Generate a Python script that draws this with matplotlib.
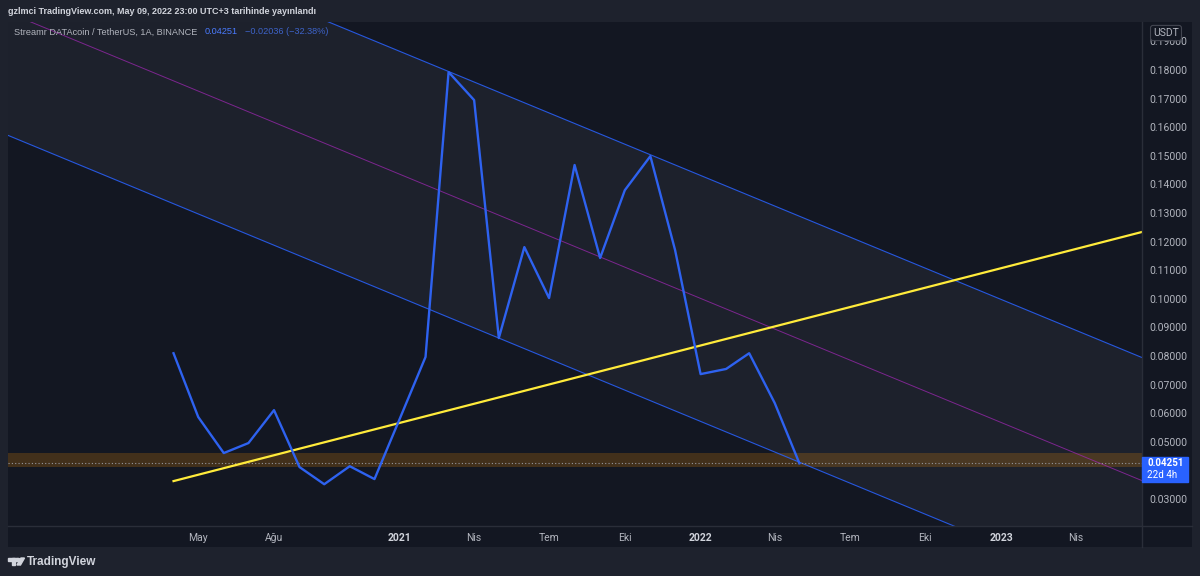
"""
Streamr DATAcoin / TetherUS monthly chart with descending channel,
rising trend line and support zone (TradingView dark style)
"""
import numpy as np
import pandas as pd
import matplotlib
matplotlib.use('Agg')
import matplotlib.pyplot as plt
import matplotlib.dates as mdates
from matplotlib.patches import Rectangle, Polygon, Circle

# monthly closes (1A = 1 month bars)
months = pd.date_range('2020-04-01', '2022-05-01', freq='MS')
closes = [0.0810, 0.0587, 0.0461, 0.0496, 0.0611, 0.0412, 0.0352, 0.0415, 0.0370,
          0.0583, 0.0797, 0.1793, 0.1695, 0.0863, 0.1181, 0.1003, 0.1468, 0.1143,
          0.1380, 0.1499, 0.1171, 0.0737, 0.0755, 0.0810, 0.0636, 0.04251]

# drawing anchors (date, price)
upper_dates = ['2021-03-01', '2021-11-01']
upper_prices = [0.1795, 0.1504]
lower_dates = ['2021-05-01', '2022-05-01']
lower_prices = [0.0863, 0.0429]
trend_dates = ['2020-04-01', '2022-01-01']
trend_prices = [0.0363, 0.0837]
zone_low, zone_high = 0.0412, 0.0461
last_price = 0.04251

view_dates = ['2019-09-13', '2023-06-21']
view_prices = [0.0206, 0.1968]

tick_dates = ['2020-05-01', '2020-08-01', '2021-01-01', '2021-04-01', '2021-07-01',
              '2021-10-01', '2022-01-01', '2022-04-01', '2022-07-01', '2022-10-01',
              '2023-01-01', '2023-04-01']
tick_labels = ['May', 'Ağu', '2021', 'Nis', 'Tem', 'Eki', '2022', 'Nis', 'Tem', 'Eki',
               '2023', 'Nis']
# 0.04 sits under the last-price badge, so it is not shown
price_ticks = [0.03, 0.05, 0.06, 0.07, 0.08, 0.09, 0.10, 0.11, 0.12, 0.13,
               0.14, 0.15, 0.16, 0.17, 0.18, 0.19]

# colours
OUTER = '#1e222d'
PANE = '#131722'
TEXT = '#b2b5be'
BLUE = '#2962ff'

W, H = 1200, 576


def fx(x):
    return x / W


def fy(y):
    return 1 - y / H


def line_through(dates, prices, x):
    d = mdates.date2num(pd.to_datetime(dates))
    slope = (prices[1] - prices[0]) / (d[1] - d[0])
    return prices[0] + slope * (x - d[0])


fig = plt.figure(figsize=(12, 5.76), dpi=100, facecolor=OUTER)

# pane background incl. price / time scales
bg = fig.add_axes([fx(8), fy(547), fx(1192 - 8), (547 - 22) / H])
bg.set_facecolor(PANE)
bg.set_xticks([])
bg.set_yticks([])
for s in bg.spines.values():
    s.set_visible(False)

ax = fig.add_axes([fx(8), fy(526), fx(1142 - 8), (526 - 22) / H])
ax.set_facecolor(PANE)
for s in ax.spines.values():
    s.set_visible(False)

x0, x1 = mdates.date2num(pd.to_datetime(view_dates))
xs = np.linspace(x0, x1, 200)

# channel
up = line_through(upper_dates, upper_prices, xs)
lo = line_through(lower_dates, lower_prices, xs)
ax.fill_between(xs, lo, up, color='#787b86', alpha=0.10, lw=0, zorder=1)
ax.plot(xs, up, color='#2962ff', lw=0.8, alpha=0.85, zorder=2)
ax.plot(xs, lo, color='#2962ff', lw=0.8, alpha=0.85, zorder=2)
ax.plot(xs, (up + lo) / 2, color='#9c27b0', lw=0.7, alpha=0.75, zorder=2)

# support zone + last price line
ax.axhspan(zone_low, zone_high, color='#ff9800', alpha=0.2, lw=0, zorder=1)
ax.axhline(last_price, color='#9598a1', lw=0.8, ls=(0, (1, 2)), zorder=2)

# rising trend line
t0 = mdates.date2num(pd.Timestamp(trend_dates[0]))
ts = np.array([t0, x1])
ax.plot(ts, line_through(trend_dates, trend_prices, ts), color='#ffeb3b', lw=1.6, zorder=3)

# price line
ax.plot(mdates.date2num(months), closes, color='#2e62f0', lw=1.7, zorder=4)

ax.set_xlim(x0, x1)
ax.set_ylim(*view_prices)

ax.set_xticks(mdates.date2num(pd.to_datetime(tick_dates)))
ax.set_xticklabels(tick_labels)
ax.tick_params(axis='x', length=0, pad=5, labelsize=7.5, labelcolor=TEXT)
for lab in ax.get_xticklabels():
    if lab.get_text().isdigit():
        lab.set_color('#d1d4dc')
        lab.set_fontweight('bold')

ax.yaxis.tick_right()
ax.set_yticks(price_ticks)
ax.set_yticklabels([f'{p:.5f}' for p in price_ticks])
ax.tick_params(axis='y', length=0, pad=5, labelsize=7.5, labelcolor=TEXT)
for lab in ax.get_yticklabels() + ax.get_xticklabels():
    lab.set_fontfamily('Roboto')

# scale separators
fig.add_artist(plt.Line2D([fx(1142), fx(1142)], [fy(22), fy(547)], color='#2a2e39', lw=1))
fig.add_artist(plt.Line2D([fx(8), fx(1192)], [fy(526), fy(526)], color='#2a2e39', lw=1))

# last price label
fig.add_artist(Rectangle((fx(1142), fy(482)), fx(46), 25 / H, color=BLUE, zorder=10))
fig.text(fx(1147), fy(463.5), f'{last_price:.5f}', color='white', fontsize=7,
         fontweight='bold', family='Roboto', va='center', zorder=11)
fig.text(fx(1147), fy(475.5), '22d 4h', color='white', fontsize=7,
         family='Roboto', va='center', zorder=11)

# currency badge
fig.text(fx(1166), fy(33), 'USDT', color=TEXT, fontsize=7.5, family='Roboto',
         ha='center', va='center', zorder=11,
         bbox=dict(boxstyle='round,pad=0.25', fc=PANE, ec='#434651', lw=0.8))

# header + legend
fig.text(fx(8), fy(11), 'gzlmci TradingView.com, May 09, 2022 23:00 UTC+3 tarihinde yayınlandı',
         color='#d1d4dc', fontsize=6.5, family='Liberation Sans', fontweight='bold', va='center')
fig.text(fx(14), fy(32), 'Streamr DATAcoin / TetherUS, 1A, BINANCE', color=TEXT,
         fontsize=6.6, family='Liberation Sans', va='center')
fig.text(fx(205), fy(32), f'{last_price:.5f}', color='#4a7bff', fontsize=6.6,
         family='Liberation Sans', va='center')
fig.text(fx(245), fy(32), '\u22120.02036 (\u221232.38%)', color='#3d63c9', fontsize=6.6,
         family='Liberation Sans', va='center')

# TradingView logo
logo = '#d1d4dc'
fig.add_artist(Rectangle((fx(8), fy(560.5)), fx(7), 2.5 / H, color=logo))
fig.add_artist(Rectangle((fx(11.5), fy(565)), fx(3.5), 7 / H, color=logo))
fig.add_artist(Circle((fx(17.5), fy(560)), 1.6 / H, color=logo, transform=fig.transFigure))
fig.add_artist(Polygon([(fx(17), fy(565)), (fx(21), fy(558)), (fx(24.5), fy(558)),
                        (fx(20.5), fy(565))], closed=True, color=logo))
fig.text(fx(27), fy(562), 'TradingView', color=logo, fontsize=8.5, fontweight='bold',
         family='Liberation Sans', va='center')

fig.savefig('out.png', dpi=100, facecolor=OUTER)
